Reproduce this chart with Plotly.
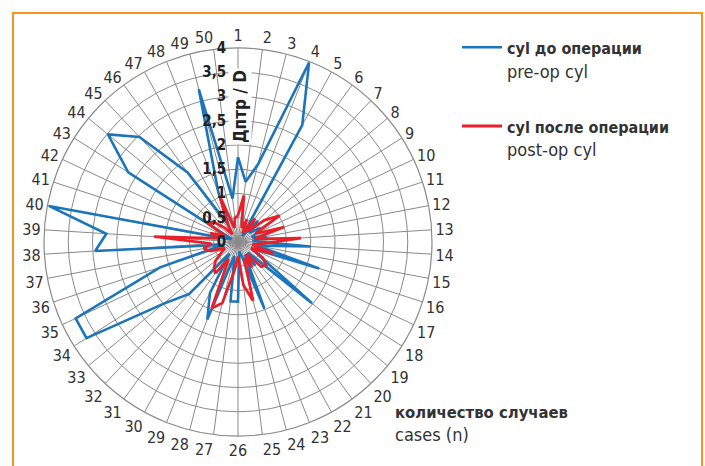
import plotly.graph_objects as go

# Case numbers around the circle
cases = [str(i) for i in range(1, 51)]

# Cylinder (dioptres) before surgery, per case
cyl_pre = [1.75, 1.25, 1.65, 3.98, 2.75, 0.15, 0.6, 0.3, 0.55, 0.4,
           0.3, 0.6, 0.3, 1.5, 0.4, 1.76, 0.3, 0.5, 1.98, 0.3,
           0.6, 0.3, 1.48, 0.3, 0.2, 1.23, 1.23, 0.3, 1.72, 1.2,
           0.3, 1.47, 2.0, 3.7, 3.7, 1.69, 0.3, 2.95, 2.72, 3.97,
           0.2, 0.15, 2.68, 3.48, 2.97, 1.77, 0.4, 1.1, 3.25, 0.9]

# Cylinder (dioptres) after surgery, per case
cyl_post = [0.55, 0.97, 0.3, 0.5, 0.2, 0.6, 0.3, 0.7, 1.02, 0.4,
            1.0, 0.35, 1.3, 0.5, 0.3, 0.77, 0.3, 0.6, 0.75, 0.7,
            0.3, 0.6, 0.35, 1.25, 0.9, 0.3, 0.6, 1.3, 1.47, 0.4,
            0.8, 0.72, 0.6, 0.4, 0.3, 0.6, 0.72, 0.55, 1.73, 0.4,
            0.6, 0.3, 0.75, 0.63, 0.4, 0.2, 0.5, 1.0, 0.3, 0.5]

radial_ticks = [0, 0.5, 1, 1.5, 2, 2.5, 3, 3.5, 4]
radial_labels = ["0", "0,5", "1", "1,5", "2", "2,5", "3", "3,5", "4"]

FONT = "DejaVu Sans Condensed, Roboto, Liberation Sans, sans-serif"
GRID = "#8a8a8a"
BLUE = "#1b75bb"
RED = "#e8202a"

W, H = 705, 466
cx, cy, R = 238, 242, 194


def closed(vals):
    return vals + vals[:1]


def two_line(bold, plain, bold_px=16):
    return f"<span style='font-size:{bold_px}px'><b>{bold}</b></span><br>{plain}"


fig = go.Figure()
fig.add_trace(go.Scatterpolar(
    r=closed(cyl_pre), theta=closed(cases), mode="lines",
    line=dict(color=BLUE, width=2.6),
    name=two_line("cyl до операции", "pre-op cyl"), legendgroup="pre"))
fig.add_trace(go.Scatterpolar(
    r=closed(cyl_post), theta=closed(cases), mode="lines",
    line=dict(color=RED, width=2.8),
    name=two_line("cyl после операции", "post-op cyl"), legendgroup="post"))

fig.update_layout(
    width=W, height=H,
    margin=dict(l=0, r=0, t=0, b=0),
    paper_bgcolor="white",
    font=dict(family=FONT, color="#333333"),
    polar=dict(
        domain=dict(x=[(cx - R) / W, (cx + R) / W],
                    y=[(H - cy - R) / H, (H - cy + R) / H]),
        bgcolor="white",
        angularaxis=dict(
            type="category", categoryarray=cases, rotation=90,
            direction="clockwise", showgrid=True, gridcolor=GRID,
            gridwidth=1.2, showline=True, linecolor=GRID, linewidth=1.2,
            ticks="", tickfont=dict(family=FONT, size=16, color="#333333")),
        radialaxis=dict(
            range=[0, 4], tickvals=radial_ticks, ticktext=radial_labels,
            angle=90, tickangle=90, side="counterclockwise",
            showgrid=True, gridcolor=GRID, gridwidth=1.2,
            showline=False, ticks="outside", ticklen=6,
            tickcolor="rgba(0,0,0,0)",
            tickfont=dict(family=FONT, size=15, color="#222222",
                          weight="bold")),
    ),
    legend=dict(x=457 / W, y=1 - 29 / H, xanchor="left", yanchor="top",
                font=dict(family=FONT, size=18, color="#333333"),
                valign="top", tracegroupgap=29, itemwidth=40,
                bgcolor="rgba(0,0,0,0)"),
    shapes=[dict(type="rect", xref="paper", yref="paper",
                 x0=13 / W, x1=702 / W, y0=-0.05, y1=1 - 13 / H,
                 line=dict(color="#f7941d", width=2))],
    annotations=[
        dict(text="<b>Дптр / D</b>", textangle=-90, xref="paper",
             yref="paper", x=240 / W, y=1 - 107 / H, xanchor="center",
             yanchor="middle", showarrow=False,
             font=dict(family=FONT, size=17, color="#222222"),
             bgcolor="white"),
        dict(text=two_line("количество случаев", "cases (n)", 16.5),
             xref="paper", yref="paper", x=393 / W, y=1 - 401 / H,
             xanchor="left", yanchor="top", align="left", showarrow=False,
             font=dict(family=FONT, size=18, color="#333333")),
    ],
)

fig.write_html("out.html")
